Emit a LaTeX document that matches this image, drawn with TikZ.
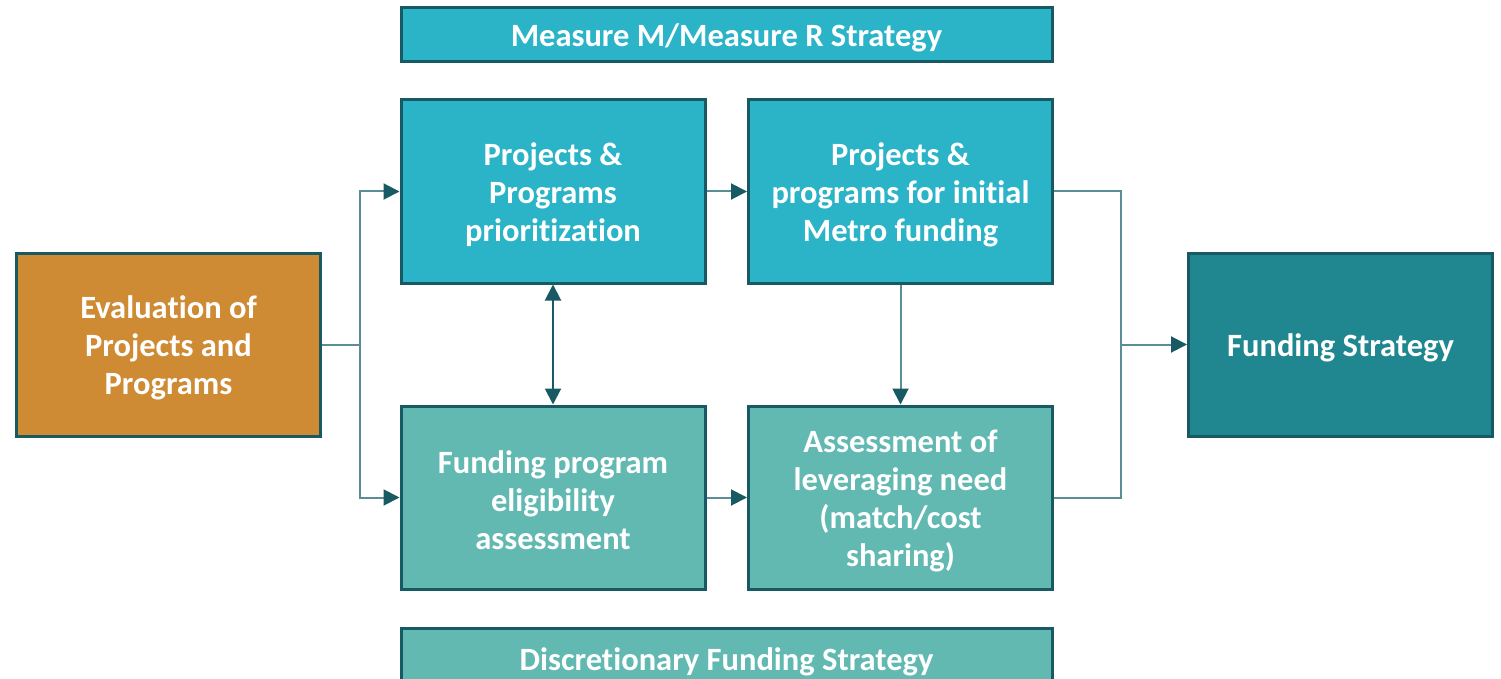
\documentclass[tikz,border=0pt]{standalone}
\usepackage{fontspec}
\setmainfont{Carlito}[RawFeature={-liga;-clig;-calt;-ccmp}]
\usetikzlibrary{arrows.meta}
\definecolor{cyanbox}{HTML}{2BB3C8}
\definecolor{tealbox}{HTML}{62B9B2}
\definecolor{orangebox}{HTML}{CE8B33}
\definecolor{darkteal}{HTML}{208790}
\definecolor{edge}{HTML}{175A63}
\definecolor{conn}{HTML}{5A8D95}
\newcommand{\topstrut}{\rule{0pt}{29pt}}
\begin{document}
\begin{tikzpicture}[x=1pt,y=-1pt,
  box/.style={draw=edge, line width=3pt, text=white, align=center,
    font=\fontsize{32.5}{38}\selectfont\bfseries, inner sep=0pt,
    minimum width=304pt, minimum height=183pt},
  wide/.style={box, minimum width=651pt, minimum height=54pt},
  conline/.style={draw=conn, line width=2pt},
  arr/.style={conline, -{Triangle[length=16pt,width=16pt,color=edge]}},
  darr/.style={draw=edge, line width=2pt, {Triangle[length=16pt,width=16pt]}-{Triangle[length=16pt,width=16pt]}}
]
\clip (0,0) rectangle (1501,679);
\useasboundingbox (0,0) rectangle (1501,679);
\node[wide, fill=cyanbox] (mm) at (726.5,35) {\topstrut Measure M/Measure R Strategy};
\node[box, fill=cyanbox] (prio) at (553,191.5) {\topstrut Projects \&\\Programs\\prioritization};
\node[box, fill=cyanbox] (metro) at (900.5,191.5) {\topstrut Projects \&\\programs for initial\\Metro funding};
\node[box, fill=orangebox] (eval) at (168.5,344.5) {\topstrut Evaluation of\\Projects and\\Programs};
\node[box, fill=tealbox] (elig) at (553,497.5) {\topstrut Funding program\\eligibility\\assessment};
\node[box, fill=tealbox] (assess) at (900.5,497.5) {\topstrut Assessment of\\leveraging need\\(match/cost\\sharing)};
\node[box, fill=darkteal] (fs) at (1340.5,344.5) {\topstrut Funding Strategy};
\node[wide, fill=tealbox, minimum height=62pt] (disc) at (726.5,659) {\topstrut Discretionary Funding Strategy};
\coordinate (j1) at (360,344.5);
\coordinate (j2) at (1121,344.5);
\draw[conline] (eval.east) -- (j1);
\draw[arr] (j1) |- (prio.west);
\draw[arr] (j1) |- (elig.west);
\draw[arr] (prio.east) -- (metro.west);
\draw[arr] (elig.east) -- (assess.west);
\draw[darr] (prio.south) -- (elig.north);
\draw[arr] (metro.south) -- (assess.north);
\draw[conline] (metro.east) -| (j2);
\draw[conline] (assess.east) -| (j2);
\draw[arr] (j2) -- (fs.west);
\end{tikzpicture}
\end{document}
